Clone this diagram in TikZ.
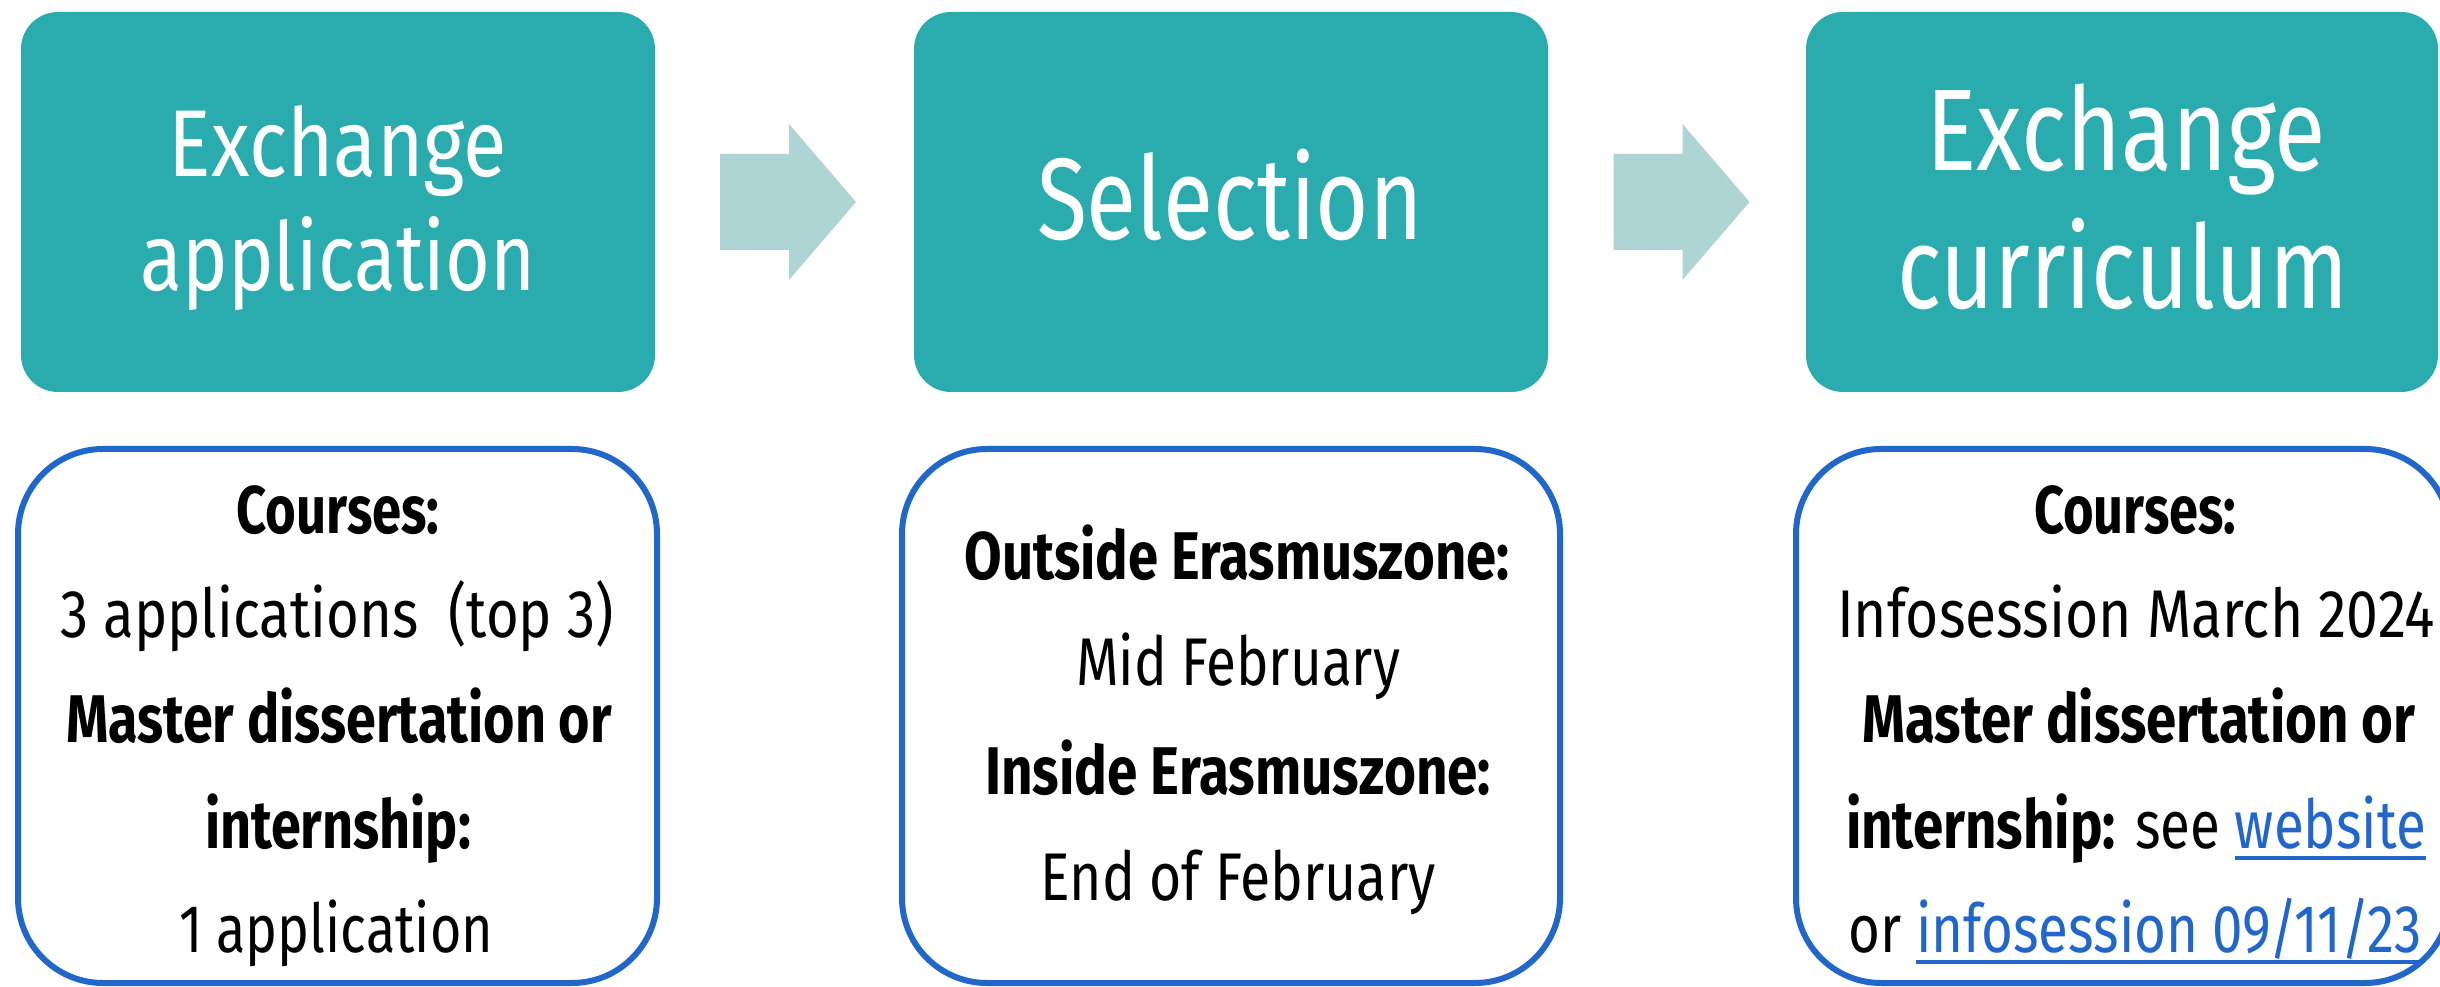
\documentclass[tikz,border=0pt]{standalone}
\usepackage{graphicx}
\usepackage{fontspec}
\setmainfont{Fira Sans}
\definecolor{teal1}{HTML}{2AABAE}
\definecolor{arrowc}{HTML}{AED4D4}
\definecolor{bord}{HTML}{2166C9}
\definecolor{linkc}{HTML}{2166CC}
\newlength\fitlen
\newcommand\fitw[2]{\settowidth\fitlen{#2}\pgfmathsetmacro\fitr{#1*0.28453/\fitlen}\scalebox{\fitr}[1]{#2}}
\newsavebox\lnkbox
\newcommand\lnk[1]{\sbox\lnkbox{\color{linkc}#1}{\color{linkc}\rlap{\rule[-3.4pt]{\wd\lnkbox}{1.1pt}}}\usebox\lnkbox}
\begin{document}
\begin{tikzpicture}[x=0.1mm,y=-0.1mm,
  tealbox/.style={fill=teal1, rounded corners=3.7mm, minimum height=38mm, inner sep=0},
  bluebox/.style={draw=bord, line width=0.6mm, fill=white, rounded corners=8.5mm, minimum height=53.4mm, inner sep=0},
  toptxt/.style={anchor=base, text=white, inner sep=0},
  bottxt/.style={anchor=base, text=black, inner sep=0, font=\fontsize{19.2pt}{23pt}\selectfont},
]
\useasboundingbox[fill=white] (0,0) rectangle (2440,987);
% top boxes
\node[tealbox, minimum width=63.4mm] (b1) at (338,202) {};
\node[tealbox, minimum width=63.4mm] (b2) at (1231,202) {};
\node[tealbox, minimum width=63.2mm] (b3) at (2122,202) {};
% block arrows
\foreach \cx in {788,1681.5}
  \fill[arrowc, shift={(\cx,202)}] (-68,-48) -- (1,-48) -- (1,-78) -- (68,0) -- (1,78) -- (1,48) -- (-68,48) -- cycle;
% top texts
\node[toptxt, font=\fontsize{27pt}{32pt}\selectfont] (t1a) at (338,177) {\fitw{338}{Exchange}};
\node[toptxt, font=\fontsize{27pt}{32pt}\selectfont] (t1b) at (338,291) {\fitw{395}{application}};
\node[toptxt, font=\fontsize{33pt}{40pt}\selectfont] (t2) at (1230,240) {\fitw{386}{Selection}};
\node[toptxt, font=\fontsize{33pt}{40pt}\selectfont] (t3a) at (2126,171) {\fitw{400}{Exchange}};
\node[toptxt, font=\fontsize{33pt}{40pt}\selectfont] (t3b) at (2123,309) {\fitw{451}{curriculum}};
% bottom boxes
\node[bluebox, minimum width=63.9mm] (c1) at (337.5,716) {};
\node[bluebox, minimum width=65.8mm] (c2) at (1231,716) {};
\node[bluebox, minimum width=65.4mm] (c3) at (2123,716) {};
% box 1 text
\node[bottxt] (p1a) at (338,534) {\fitw{203}{\textbf{Courses:}}};
\node[bottxt] (p1b) at (337,638) {\fitw{553}{3 applications\ \ (top 3)}};
\node[bottxt] (p1c) at (339,743) {\fitw{546}{\textbf{Master dissertation or}}};
\node[bottxt] (p1d) at (338,848) {\fitw{266}{\textbf{internship:}}};
\node[bottxt] (p1e) at (336,952) {\fitw{314}{1 application}};
% box 2 text
\node[bottxt] (p2a) at (1237,580) {\fitw{545}{\textbf{Outside Erasmuszone:}}};
\node[bottxt] (p2b) at (1238,686) {\fitw{324}{Mid February}};
\node[bottxt] (p2c) at (1238,794) {\fitw{506}{\textbf{Inside Erasmuszone:}}};
\node[bottxt] (p2d) at (1238,900) {\fitw{395}{End of February}};
% box 3 text
\node[bottxt] (p3a) at (2135,534) {\fitw{202}{\textbf{Courses:}}};
\node[bottxt] (p3b) at (2136,638) {\fitw{598}{Infosession March 2024}};
\node[bottxt] (p3c) at (2139,743) {\fitw{553}{\textbf{Master dissertation or}}};
\node[bottxt] (p3d) at (2136,848) {\fitw{580}{\textbf{internship:} see \lnk{website}}};
\node[bottxt] (p3e) at (2135,952) {\fitw{573}{or \lnk{infosession 09/11/23}}};
\end{tikzpicture}
\end{document}
